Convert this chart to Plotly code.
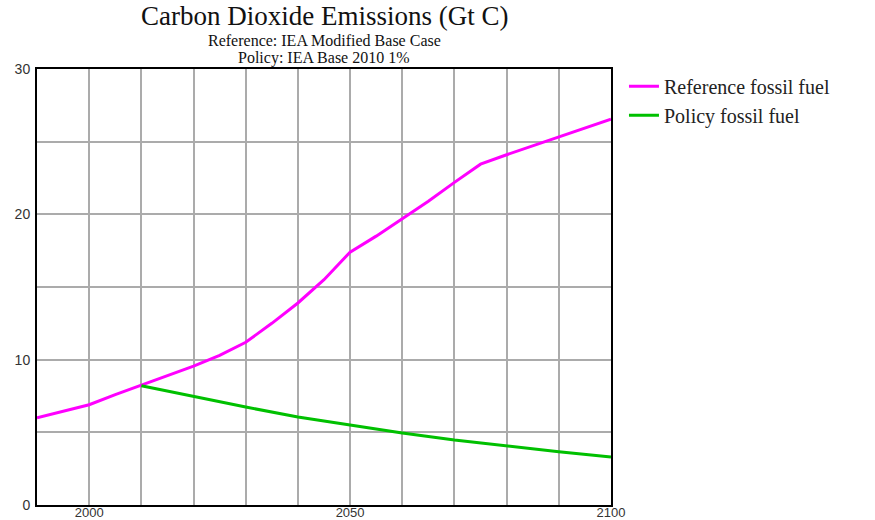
import plotly.graph_objects as go

# Data
ref_years = [1990, 2000, 2005, 2010, 2020, 2025, 2030, 2035, 2040, 2045, 2050, 2055, 2060, 2065, 2070, 2075, 2080, 2090, 2100]
ref_values = [6.0, 6.9, 7.6, 8.25, 9.55, 10.3, 11.2, 12.5, 13.9, 15.5, 17.4, 18.5, 19.7, 20.9, 22.2, 23.45, 24.1, 25.3, 26.55]

pol_years = [2010, 2020, 2030, 2040, 2050, 2060, 2070, 2080, 2090, 2100]
pol_values = [8.2, 7.45, 6.74, 6.05, 5.5, 4.95, 4.47, 4.06, 3.67, 3.3]

x_tickvals = [1990, 2000, 2010, 2020, 2030, 2040, 2050, 2060, 2070, 2080, 2090, 2100]
x_ticktext = ["", "2000", "", "", "", "", "2050", "", "", "", "", "2100"]
y_tickvals = [0, 5, 10, 15, 20, 25, 30]
y_ticktext = ["0", "", "10", "", "20", "", "30"]

title = "Carbon Dioxide Emissions (Gt C)"
subtitle1 = "Reference: IEA Modified Base Case"
subtitle2 = "Policy: IEA Base 2010 1%"

fig = go.Figure()
fig.add_trace(go.Scatter(x=ref_years, y=ref_values, mode="lines", name="Reference fossil fuel",
                         line=dict(color="#ff00ff", width=3)))
fig.add_trace(go.Scatter(x=pol_years, y=pol_values, mode="lines", name="Policy fossil fuel",
                         line=dict(color="#00c000", width=3)))

serif = "Liberation Serif, Times New Roman, serif"
sans = "Liberation Sans, Arial, sans-serif"

fig.update_layout(
    width=875, height=520,
    margin=dict(l=37, r=264, t=69, b=15, autoexpand=False),
    paper_bgcolor="white", plot_bgcolor="white",
    showlegend=True,
    legend=dict(x=1.0226, y=1.005, xanchor="left", yanchor="top",
                font=dict(family=serif, size=20, color="#222"),
                bgcolor="rgba(0,0,0,0)", tracegroupgap=0),
    xaxis=dict(range=[1990, 2100], tickvals=x_tickvals, ticktext=x_ticktext,
               showgrid=True, gridcolor="#ababab", gridwidth=2,
               showline=True, linecolor="black", linewidth=2, mirror=True,
               ticks="", tickfont=dict(family=sans, size=13, color="#333"),
               zeroline=False, automargin=False, ticklabelstandoff=-6),
    yaxis=dict(range=[0, 30], tickvals=y_tickvals, ticktext=y_ticktext,
               showgrid=True, gridcolor="#ababab", gridwidth=2,
               showline=True, linecolor="black", linewidth=2, mirror=True,
               ticks="", tickfont=dict(family=sans, size=14, color="#333"),
               zeroline=False, automargin=False, ticklabelstandoff=2),
    annotations=[
        dict(text=title, x=0.5, xref="paper", y=1, yref="paper", yshift=53, showarrow=False,
             xanchor="center", yanchor="middle", font=dict(family=serif, size=27, color="#111")),
        dict(text=subtitle1, x=0.5, xref="paper", y=1, yref="paper", yshift=29, showarrow=False,
             xanchor="center", yanchor="middle", font=dict(family=serif, size=16, color="#111")),
        dict(text=subtitle2, x=0.5, xref="paper", y=1, yref="paper", yshift=11, showarrow=False,
             xanchor="center", yanchor="middle", font=dict(family=serif, size=16, color="#111")),
    ],
)

fig.write_html("out.html")
